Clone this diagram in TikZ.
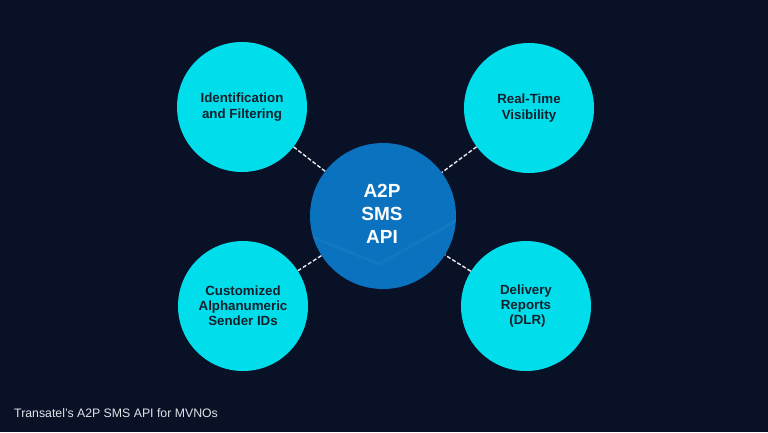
\documentclass[tikz,border=0pt]{standalone}
\usepackage{fontspec}
\setmainfont{Liberation Sans}
\definecolor{bgnavy}{HTML}{081126}
\definecolor{cyanfill}{HTML}{00DEEB}
\definecolor{hubblue}{HTML}{0A72BE}
\definecolor{hubband}{HTML}{2A86CC}
\definecolor{darktext}{HTML}{16202C}
\definecolor{captiongray}{HTML}{E2E4E8}
\definecolor{dashgray}{HTML}{E8EAEE}
\begin{document}
\begin{tikzpicture}[x=1pt,y=-1pt,
  spoke/.style={circle,fill=cyanfill,minimum size=130pt,inner sep=0pt,
    text=darktext,font=\bfseries\fontsize{13.3}{15.2}\selectfont,align=center},
  hub/.style={circle,fill=hubblue,minimum size=146pt,inner sep=0pt},
  link/.style={draw=dashgray,line width=1.4pt,dash pattern=on 4pt off 2pt}]
\fill[bgnavy] (0,0) rectangle (768,432);
\useasboundingbox (0,0) rectangle (768,432);
\node[hub] (hubc) at (383,216) {};
\begin{scope}
  \clip (383,216) circle (73);
  \draw[hubband,line width=3pt,opacity=0.3] (300,232) -- (379,264) -- (470,213);
\end{scope}
\node[text=white,font=\bfseries\fontsize{19}{23}\selectfont,align=center] (hubt) at (382,214) {A2P\\SMS\\API};
\node[spoke] (tl) at (242,107) {Identification\\and Filtering};
\node[spoke] (tr) at (529,108) {Real-Time\\Visibility};
\node[spoke] (bl) at (243,306) {Customized\\Alphanumeric\\Sender IDs};
\node[spoke] (br) at (526,306) {Delivery\\Reports\\\hspace{3pt}(DLR)};
\draw[link] (tl) -- (hubc);
\draw[link] (tr) -- (hubc);
\draw[link] (bl) -- (hubc);
\draw[link] (br) -- (hubc);
\node[anchor=base west,inner sep=0pt,text=captiongray,font=\fontsize{12.3}{14}\selectfont] (cap) at (14,417) {Transatel’s A2P SMS API for MVNOs};
\end{tikzpicture}
\end{document}
